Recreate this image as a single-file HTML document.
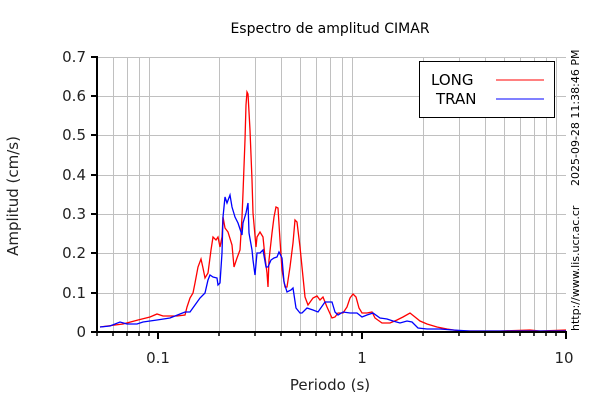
<!DOCTYPE html>
<html><head><meta charset="utf-8"><style>
body{margin:0;background:#fff}
svg{display:block;font-family:"DejaVu Sans","Liberation Sans",sans-serif}
</style></head><body>
<svg width="600" height="400" viewBox="0 0 600 400" xmlns="http://www.w3.org/2000/svg">
<rect width="600" height="400" fill="#fff"/>
<g stroke="#c0c0c0" stroke-width="1">
<line x1="97" y1="57.5" x2="566" y2="57.5"/><line x1="97" y1="96.5" x2="566" y2="96.5"/><line x1="97" y1="135.5" x2="566" y2="135.5"/><line x1="97" y1="175.5" x2="566" y2="175.5"/><line x1="97" y1="214.5" x2="566" y2="214.5"/><line x1="97" y1="253.5" x2="566" y2="253.5"/><line x1="97" y1="293.5" x2="566" y2="293.5"/>
<line x1="113.5" y1="57" x2="113.5" y2="332"/><line x1="127.5" y1="57" x2="127.5" y2="332"/><line x1="139.5" y1="57" x2="139.5" y2="332"/><line x1="149.5" y1="57" x2="149.5" y2="332"/>
<line x1="219.5" y1="57" x2="219.5" y2="332"/><line x1="255.5" y1="57" x2="255.5" y2="332"/><line x1="281.5" y1="57" x2="281.5" y2="332"/><line x1="300.5" y1="57" x2="300.5" y2="332"/><line x1="316.5" y1="57" x2="316.5" y2="332"/><line x1="330.5" y1="57" x2="330.5" y2="332"/><line x1="342.5" y1="57" x2="342.5" y2="332"/><line x1="352.5" y1="57" x2="352.5" y2="332"/>
<line x1="423.5" y1="57" x2="423.5" y2="332"/><line x1="459.5" y1="57" x2="459.5" y2="332"/><line x1="485.5" y1="57" x2="485.5" y2="332"/><line x1="504.5" y1="57" x2="504.5" y2="332"/><line x1="520.5" y1="57" x2="520.5" y2="332"/><line x1="534.5" y1="57" x2="534.5" y2="332"/><line x1="546.5" y1="57" x2="546.5" y2="332"/><line x1="556.5" y1="57" x2="556.5" y2="332"/>
</g>
<polyline fill="none" stroke="#f00" stroke-width="1.3" points="100,327 115,325 123,324 138,320 150,317 157,314 163,316 177,316 185,315 187,307 190,298 193,293 195,283 198,267 201,259 203,268 205,278 208,273 211,250 213,237 216,240 218,237 220,247 222,237 223,217 225,228 228,232 232,245 234,267 237,258 240,250 242,217 243,193 245,140 246,105 247,92 248,94 250,130 252,180 253,213 256,247 257,237 260,232 263,237 265,257 267,273 268,287 269,260 272,233 274,217 276,207 278,208 280,240 282,270 285,287 287,287 290,267 293,243 295,220 297,222 300,247 303,277 305,297 308,305 313,298 317,296 320,300 323,297 327,307 332,318 335,317 338,313 343,313 347,307 350,298 353,294 356,297 359,308 362,313 367,313 372,312 375,318 382,323 390,323 397,320 403,317 410,313 415,317 420,321 427,324 437,327 447,329 460,331 500,331 530,330 540,331 566,330"/>
<polyline fill="none" stroke="#00f" stroke-width="1.3" points="100,327 110,326 120,322 127,324 137,324 143,322 157,320 170,318 180,314 185,312 190,312 195,305 200,298 205,293 208,280 210,275 213,277 217,278 218,285 220,283 222,253 223,217 225,197 227,203 230,195 232,207 235,217 238,223 242,235 243,223 246,213 248,203 249,233 252,250 253,260 255,275 257,253 260,253 263,250 266,267 268,267 271,260 274,258 277,257 279,252 282,258 284,282 287,292 291,290 293,288 296,308 300,313 302,313 307,308 313,310 318,312 325,302 332,302 335,312 338,315 343,312 350,313 357,313 362,317 367,315 373,313 380,318 387,319 393,321 400,323 407,321 412,322 418,328 427,329 440,329 453,330 470,331 566,331"/>
<g stroke="#000" stroke-width="2">
<line x1="97" y1="56" x2="97" y2="333"/><line x1="96" y1="332" x2="567" y2="332"/>
<line x1="91" y1="57" x2="97" y2="57"/><line x1="91" y1="96" x2="97" y2="96"/><line x1="91" y1="135" x2="97" y2="135"/><line x1="91" y1="175" x2="97" y2="175"/><line x1="91" y1="214" x2="97" y2="214"/><line x1="91" y1="253" x2="97" y2="253"/><line x1="91" y1="293" x2="97" y2="293"/><line x1="91" y1="332" x2="97" y2="332"/>
<line x1="158" y1="332" x2="158" y2="339"/><line x1="362" y1="332" x2="362" y2="339"/><line x1="566" y1="332" x2="566" y2="339"/>
</g>
<g stroke="#000" stroke-width="1.5">
<line x1="97" y1="332" x2="97" y2="336"/><line x1="113" y1="332" x2="113" y2="336"/><line x1="127" y1="332" x2="127" y2="336"/><line x1="139" y1="332" x2="139" y2="336"/><line x1="149" y1="332" x2="149" y2="336"/>
<line x1="219" y1="332" x2="219" y2="336"/><line x1="255" y1="332" x2="255" y2="336"/><line x1="281" y1="332" x2="281" y2="336"/><line x1="300" y1="332" x2="300" y2="336"/><line x1="316" y1="332" x2="316" y2="336"/><line x1="330" y1="332" x2="330" y2="336"/><line x1="342" y1="332" x2="342" y2="336"/><line x1="352" y1="332" x2="352" y2="336"/>
<line x1="423" y1="332" x2="423" y2="336"/><line x1="459" y1="332" x2="459" y2="336"/><line x1="485" y1="332" x2="485" y2="336"/><line x1="504" y1="332" x2="504" y2="336"/><line x1="520" y1="332" x2="520" y2="336"/><line x1="534" y1="332" x2="534" y2="336"/><line x1="546" y1="332" x2="546" y2="336"/><line x1="556" y1="332" x2="556" y2="336"/>
</g>
<g font-size="15" fill="#222" text-anchor="end">
<text x="86" y="62">0.7</text><text x="86" y="101">0.6</text><text x="86" y="140">0.5</text><text x="86" y="180">0.4</text><text x="86" y="219">0.3</text><text x="86" y="258">0.2</text><text x="86" y="298">0.1</text><text x="86" y="337">0</text>
</g>
<g font-size="15" fill="#222" text-anchor="middle">
<text x="158" y="363">0.1</text><text x="362" y="363">1</text><text x="564" y="363">10</text>
</g>
<text x="330" y="33" font-size="14" text-anchor="middle" fill="#000">Espectro de amplitud CIMAR</text>
<text x="330" y="390" font-size="15" text-anchor="middle" fill="#222">Periodo (s)</text>
<text transform="translate(18,196) rotate(-90)" font-size="15" text-anchor="middle" fill="#222">Amplitud (cm/s)</text>
<text transform="translate(579,186) rotate(-90)" font-size="11" fill="#000">2025-09-28 11:38:46 PM</text>
<text transform="translate(579,331) rotate(-90)" font-size="11" fill="#000">http://www.lis.ucr.ac.cr</text>
<rect x="419.5" y="61.5" width="135" height="56" fill="#fff" stroke="#000" stroke-width="1"/>
<text x="431" y="85" font-size="15" fill="#000">LONG</text>
<text x="436" y="104" font-size="15" fill="#000">TRAN</text>
<line x1="496" y1="80" x2="544" y2="80" stroke="#f00"/>
<line x1="496" y1="99" x2="544" y2="99" stroke="#00f"/>
</svg>
</body></html>
